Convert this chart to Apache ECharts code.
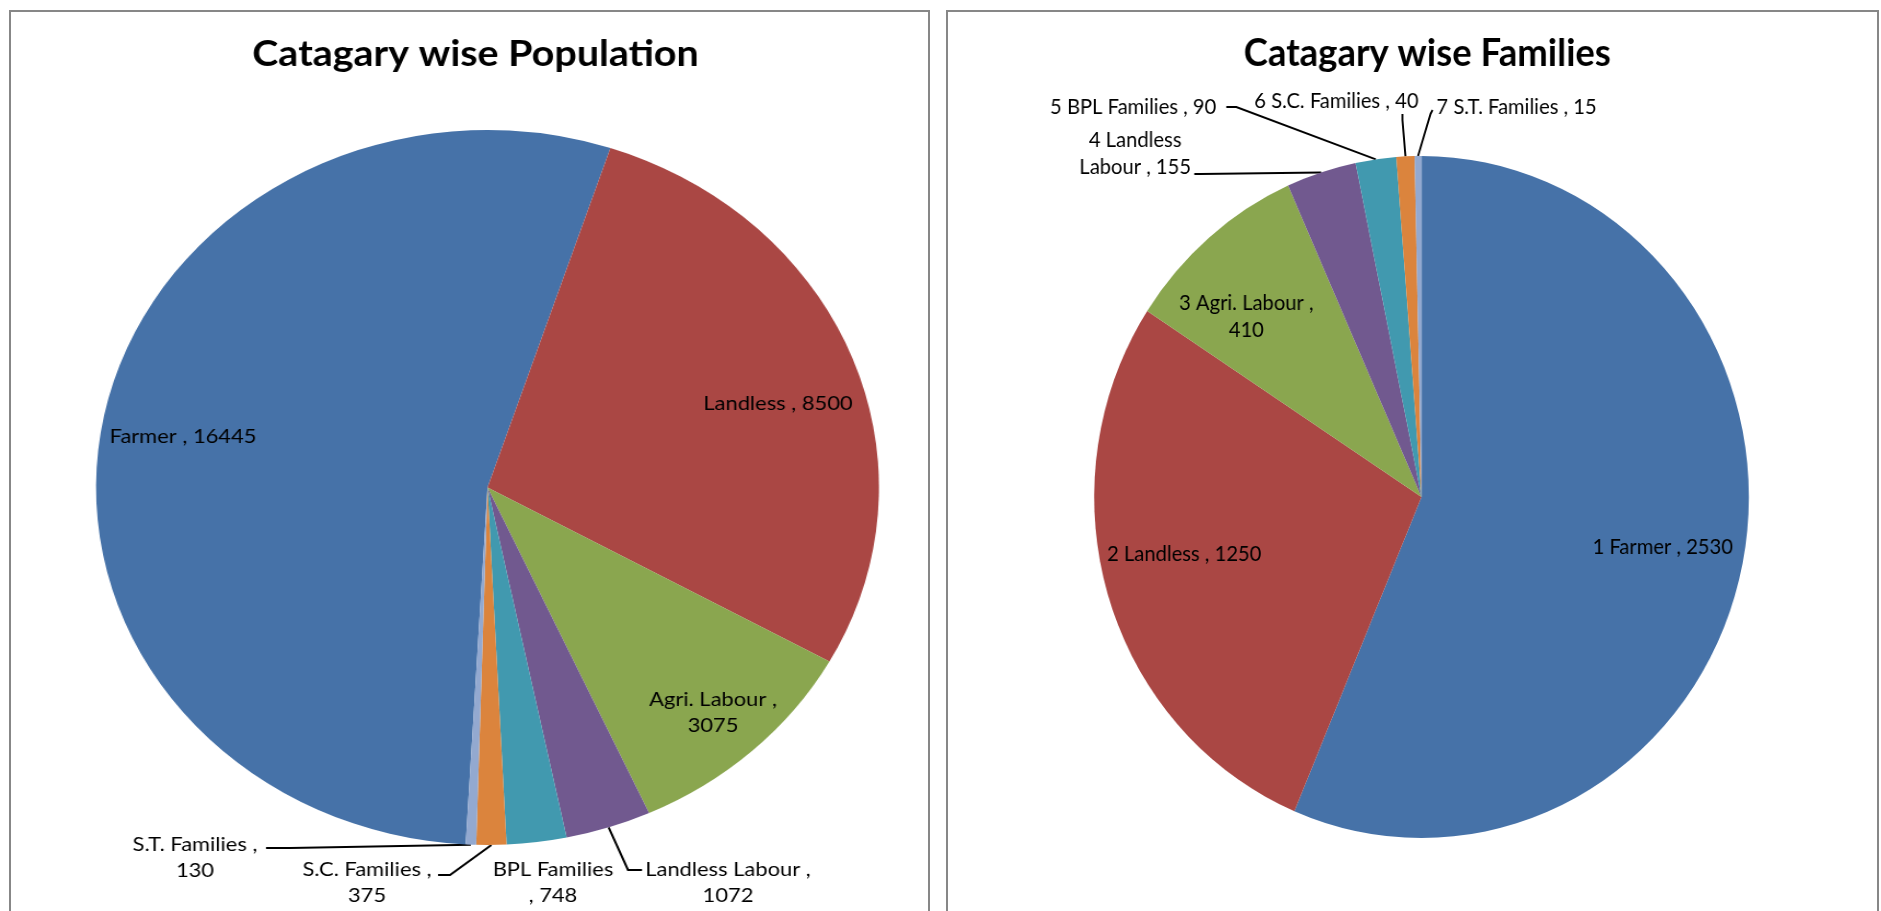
<!DOCTYPE html>
<html>
<head>
<meta charset="utf-8">
<title>Catagary wise Population and Families</title>
<script src="https://cdn.jsdelivr.net/npm/echarts@6/dist/echarts.min.js"></script>
<style>
  html, body { margin: 0; padding: 0; background: #fff; width: 1881px; height: 911px; overflow: hidden; }
  .panel { position: absolute; box-sizing: border-box; border: 2px solid #878787; overflow: hidden; background: #fff; }
  .chart { position: absolute; left: 0; top: 0; transform-origin: 0 0; }
</style>
</head>
<body>
<div class="panel" id="panelPop"><div class="chart" id="pop"></div></div>
<div class="panel" id="panelFam"><div class="chart" id="fam"></div></div>
<script>
// ---- data ----
const popNames  = ['Farmer', 'Landless', 'Agri. Labour', 'Landless Labour', 'BPL Families', 'S.C. Families', 'S.T. Families'];
const popValues = [16445, 8500, 3075, 1072, 748, 375, 130];

const famNames  = ['1 Farmer', '2 Landless', '3 Agri. Labour', '4 Landless Labour', '5 BPL Families', '6 S.C. Families', '7 S.T. Families'];
const famValues = [2530, 1250, 410, 155, 90, 40, 15];

const popTitle = 'Catagary wise Population';
const famTitle = 'Catagary wise Families';

// ---- look ----
const sliceColors = ['#4672A8', '#AA4744', '#8AA64F', '#71598F', '#4199AF', '#DB843D', '#93A9D0'];
const FONT = 'Lato, "Liberation Sans", sans-serif';
const BORDER = 2;

// ---- layout (page pixels) ----
// each panel is drawn in its own space and stretched horizontally by stretchX
const popLayout = {
  box: { left: 9, top: 10, width: 921, height: 960 },
  stretchX: 1.095,
  center: [487.5, 487.5], radius: 357.5,
  firstSliceAt: 183.2,             // degrees clockwise from 12 o'clock
  title: { x: 470, y: 54, size: 36 },
  labelSize: 20, lineHeight: 26,
  wrapAfter: [0, 0, 3, 3, 2, 3, 3], // break label text after n words (0 = one line)
  spots: [
    { at: [183, 437] },
    { at: [778, 404] },
    { at: [713, 713] },
    { at: [728, 883], lead: [[642, 870], [628, 870]] },
    { at: [553, 883] },
    { at: [367, 883], lead: [[438, 875], [450, 875]] },
    { at: [195, 858], lead: [[266, 848], [290, 848]] }
  ]
};

const famLayout = {
  box: { left: 946, top: 10, width: 933, height: 960 },
  stretchX: 0.959,
  center: [1421, 497], radius: 341,
  firstSliceAt: 0,
  title: { x: 1422, y: 54, size: 38 },
  labelSize: 21, lineHeight: 27,
  wrapAfter: [0, 0, 4, 2, 0, 0, 0],
  spots: [
    { at: [1662, 547] },
    { at: [1184, 554] },
    { at: [1246, 317] },
    { at: [1135, 154], lead: [[1194, 174], [1200, 174]] },
    { at: [1133, 107], lead: [[1226, 107], [1236, 107]] },
    { at: [1336, 101], lead: [[1402, 114], [1402, 120]] },
    { at: [1516, 107], lead: [[1432, 110], [1430, 114]] }
  ]
};

function labelText(name, value, wrap) {
  const words = (name + ' , ' + value).split(' ');
  if (!wrap) return words.join(' ');
  return words.slice(0, wrap).join(' ') + '\n' + words.slice(wrap).join(' ');
}

function drawPie(elId, names, values, titleText, L) {
  const sx = L.stretchX;
  const ox = L.box.left + BORDER, oy = L.box.top + BORDER;
  const w = (L.box.width - 2 * BORDER) / sx;
  const h = L.box.height - 2 * BORDER;

  const panel = document.getElementById(elId).parentNode;
  Object.assign(panel.style, {
    left: L.box.left + 'px', top: L.box.top + 'px',
    width: L.box.width + 'px', height: L.box.height + 'px'
  });
  const el = document.getElementById(elId);
  Object.assign(el.style, { width: w + 'px', height: h + 'px', transform: 'scaleX(' + sx + ')' });

  const lx = x => (x - ox) / sx;
  const ly = y => y - oy;
  const c = [lx(L.center[0]), ly(L.center[1])];
  const r = L.radius;

  // angle at the middle of each slice, clockwise from 12 o'clock
  const total = values.reduce((a, b) => a + b, 0);
  let acc = 0;
  const mids = values.map(v => {
    const m = L.firstSliceAt + 360 * (acc + v / 2) / total;
    acc += v;
    return m * Math.PI / 180;
  });
  const rim = i => [c[0] + r * Math.sin(mids[i]), c[1] - r * Math.cos(mids[i])];

  const data = names.map((n, i) => ({
    name: n,
    value: values[i],
    itemStyle: { color: sliceColors[i] },
    labelLine: { show: !!L.spots[i].lead }
  }));

  const chart = echarts.init(el, null, { renderer: 'canvas', width: w, height: h });
  chart.setOption({
    animation: false,
    title: {
      text: titleText,
      left: lx(L.title.x),
      top: ly(L.title.y) - L.title.size * 0.5 - 5,
      textAlign: 'center',
      textStyle: { fontFamily: FONT, fontWeight: 'bold', fontSize: L.title.size, color: '#000' }
    },
    series: [{
      type: 'pie',
      center: c,
      radius: [0, r],
      startAngle: 90 - L.firstSliceAt,
      clockwise: true,
      avoidLabelOverlap: false,
      silent: true,
      itemStyle: { borderWidth: 0 },
      label: {
        show: true,
        position: 'outside',
        color: '#000',
        fontFamily: FONT,
        fontSize: L.labelSize,
        lineHeight: L.lineHeight,
        align: 'center',
        formatter: p => labelText(p.name, p.value, L.wrapAfter[p.dataIndex])
      },
      labelLine: { show: true, smooth: false, lineStyle: { color: '#000', width: 2 } },
      labelLayout: p => {
        const s = L.spots[p.dataIndex];
        const out = { x: lx(s.at[0]), y: ly(s.at[1]), align: 'center', verticalAlign: 'middle' };
        if (s.lead) {
          out.labelLinePoints = [
            [lx(s.lead[0][0]), ly(s.lead[0][1])],
            [lx(s.lead[1][0]), ly(s.lead[1][1])],
            rim(p.dataIndex)
          ];
        }
        return out;
      },
      data: data
    }]
  });
  return chart;
}

drawPie('pop', popNames, popValues, popTitle, popLayout);
drawPie('fam', famNames, famValues, famTitle, famLayout);
</script>
</body>
</html>
